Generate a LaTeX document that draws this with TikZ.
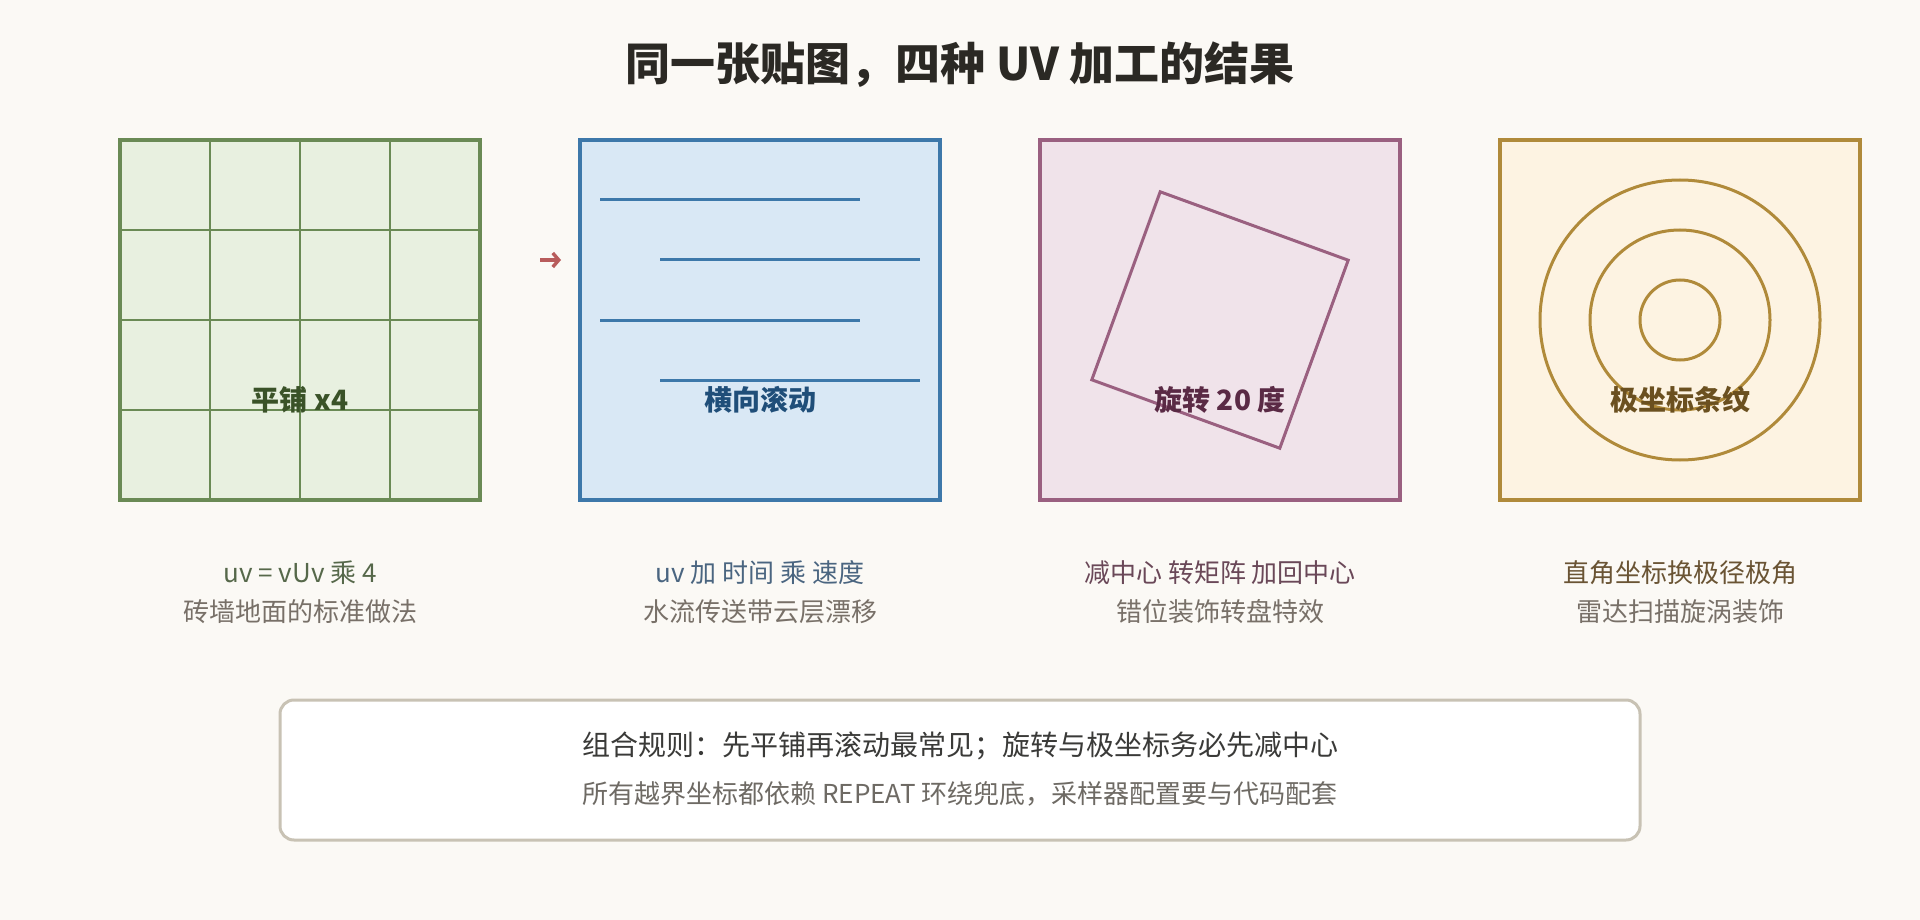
\documentclass[tikz,border=0pt]{standalone}
\usepackage{fontspec}
\setmainfont{Noto Sans CJK SC}
\usetikzlibrary{arrows.meta}
\definecolor{bg}{HTML}{FBF9F5}
\definecolor{titlec}{HTML}{2B2924}
\definecolor{gfill}{HTML}{E8F0E0}
\definecolor{gline}{HTML}{6A8A55}
\definecolor{gtext}{HTML}{3A5228}
\definecolor{gcap}{HTML}{56684A}
\definecolor{bfill}{HTML}{D9E8F5}
\definecolor{bline}{HTML}{3D78AA}
\definecolor{btext}{HTML}{1F4E79}
\definecolor{bcap}{HTML}{4A6580}
\definecolor{pfill}{HTML}{F0E3EA}
\definecolor{pline}{HTML}{9A6080}
\definecolor{ptext}{HTML}{5A2A45}
\definecolor{pcap}{HTML}{6A4858}
\definecolor{yfill}{HTML}{FDF3E2}
\definecolor{yline}{HTML}{B08A3A}
\definecolor{ytext}{HTML}{6B5020}
\definecolor{ycap}{HTML}{6A5434}
\definecolor{arrowc}{HTML}{B85C5C}
\definecolor{capgray}{HTML}{787068}
\definecolor{boxline}{HTML}{C8C2B4}
\definecolor{boxtext}{HTML}{3A3A38}
\definecolor{boxgray}{HTML}{6E6A64}
\tikzset{
  panel/.style={draw, line width=3.2pt, minimum width=360pt, minimum height=360pt, inner sep=0pt, outer sep=0pt},
  plabel/.style={font=\bfseries\fontsize{28}{32}\selectfont, inner sep=0pt},
  capone/.style={font=\fontsize{26}{30}\selectfont, inner sep=0pt},
  captwo/.style={font=\fontsize{26}{30}\selectfont, inner sep=0pt, text=capgray},
  deco/.style={line width=3pt},
}
\begin{document}
\begin{tikzpicture}[x=1pt,y=-1pt]
\useasboundingbox (0,0) rectangle (1920,920);
\fill[bg] (0,0) rectangle (1920,920);

\node[font=\bfseries\fontsize{45}{52}\selectfont, text=titlec, inner sep=0pt] (title) at (960,65) {同一张贴图，四种 UV 加工的结果};

% panel 1: tiling
\node[panel, fill=gfill, draw=gline] (p1) at (300,320) {};
\foreach \v in {210,300,390} \draw[gline, line width=2pt] (\v,140) -- (\v,500);
\foreach \h in {230,320,410} \draw[gline, line width=2pt] (120,\h) -- (480,\h);
\draw[gline, line width=3.2pt] (p1.north west) rectangle (p1.south east);
\node[plabel, text=gtext] (l1) at (300,400) {平铺 x4};

% small red arrow
\coordinate (arrs) at (540,260);
\coordinate (arre) at (561,260);
\draw[arrowc, line width=3.6pt, -{Straight Barb[length=6pt, width=14pt, line width=3.4pt]}] (arrs) -- (arre);

% panel 2: scrolling
\node[panel, fill=bfill, draw=bline] (p2) at (760,320) {};
\draw[bline, deco] (600,200) -- (860,200);
\draw[bline, deco] (660,260) -- (920,260);
\draw[bline, deco] (600,320) -- (860,320);
\draw[bline, deco] (660,380) -- (920,380);
\node[plabel, text=btext] (l2) at (760,400) {横向滚动};

% panel 3: rotation
\node[panel, fill=pfill, draw=pline] (p3) at (1220,320) {};
\draw[pline, deco, line join=miter] (1160.2,191.8) -- (1348.2,260.2) -- (1279.8,448.2) -- (1091.8,379.8) -- cycle;
\node[plabel, text=ptext] (l3) at (1220,400) {旋转 20 度};

% panel 4: polar
\node[panel, fill=yfill, draw=yline] (p4) at (1680,320) {};
\draw[yline, deco] (1680,320) circle[radius=140pt];
\draw[yline, deco] (1680,320) circle[radius=90pt];
\draw[yline, deco] (1680,320) circle[radius=40pt];
\node[plabel, text=ytext] (l4) at (1680,400) {极坐标条纹};

% captions
\node[capone, text=gcap] (c1a) at (300,573) {uv = vUv 乘 4};
\node[captwo] (c1b) at (300,612) {砖墙地面的标准做法};
\node[capone, text=bcap] (c2a) at (760,573) {uv 加 时间 乘 速度};
\node[captwo] (c2b) at (760,612) {水流传送带云层漂移};
\node[capone, text=pcap] (c3a) at (1220,573) {减中心 转矩阵 加回中心};
\node[captwo] (c3b) at (1220,612) {错位装饰转盘特效};
\node[capone, text=ycap] (c4a) at (1680,573) {直角坐标换极径极角};
\node[captwo] (c4b) at (1680,612) {雷达扫描旋涡装饰};

% bottom box
\node[draw=boxline, fill=white, line width=3pt, rounded corners=14pt, minimum width=1360pt, minimum height=140pt, inner sep=0pt] (box) at (960,770) {};
\node[font=\fontsize{28}{32}\selectfont, text=boxtext, inner sep=0pt] (b1) at (960,746) {组合规则：先平铺再滚动最常见；旋转与极坐标务必先减中心};
\node[font=\fontsize{26}{30}\selectfont, text=boxgray, inner sep=0pt] (b2) at (960,794) {所有越界坐标都依赖 REPEAT 环绕兜底，采样器配置要与代码配套};
\end{tikzpicture}
\end{document}
